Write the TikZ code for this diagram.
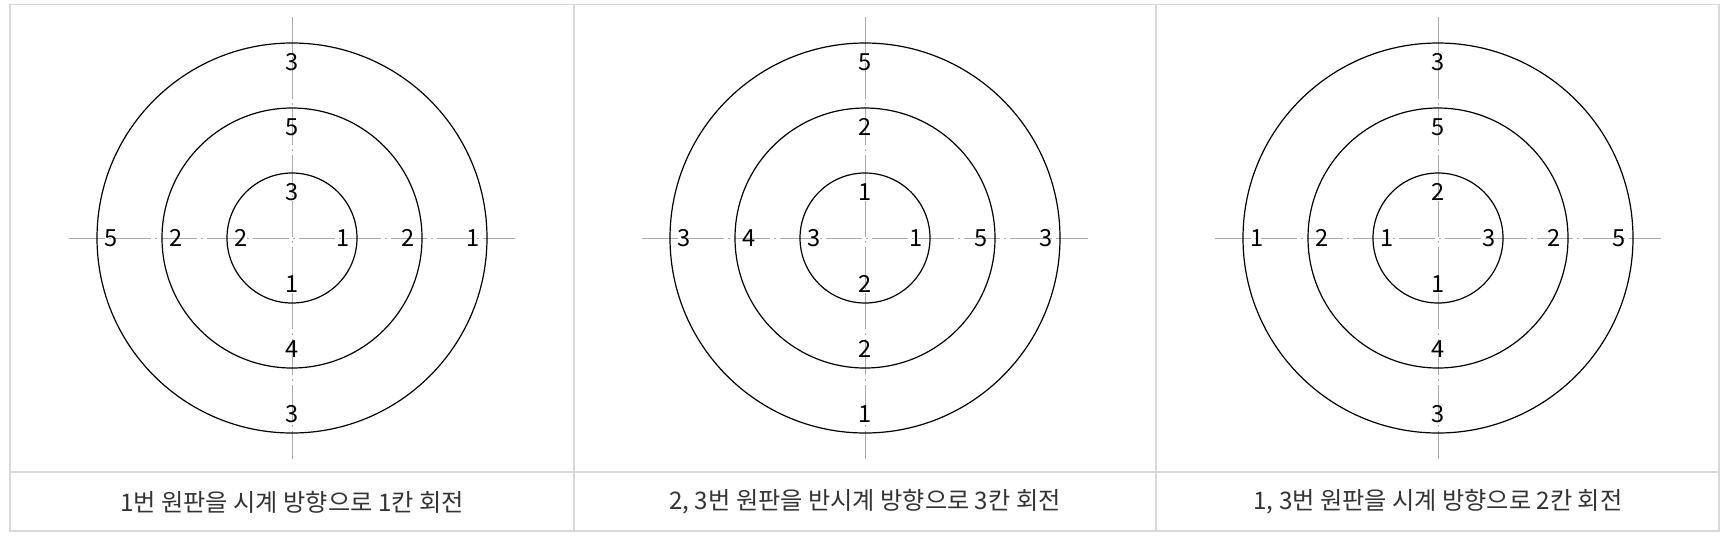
\documentclass[tikz,border=0pt]{standalone}
\usepackage{fontspec}
\setmainfont{Noto Sans CJK KR}
\definecolor{gridgray}{HTML}{D9D9D9}
\definecolor{axisgray}{HTML}{ABABAB}
\definecolor{captext}{HTML}{333333}
\tikzset{
  ring/.style={draw=black, line width=0.6pt},
  axisline/.style={draw=axisgray, line width=0.4pt, dash pattern=on 18pt off 2pt on 1pt off 2pt},
  tableline/.style={draw=gridgray, line width=0.75pt},
  lab/.style={inner sep=0pt, font=\fontsize{11.8pt}{14pt}\selectfont, text=black},
  capnode/.style={inner sep=0pt, font=\fontsize{12.1pt}{14pt}\selectfont, text=captext},
}
\newcommand{\target}[5]{%
  \begin{scope}[shift={(#2,238)}]
    \coordinate (#1c) at (0,0);
    \coordinate (#1ax-l) at (-223,0);
    \coordinate (#1ax-r) at (223,0);
    \coordinate (#1ax-t) at (0,-221);
    \coordinate (#1ax-b) at (0,221);
    \draw[axisline] (#1ax-l) -- (#1ax-r);
    \draw[axisline] (#1ax-t) -- (#1ax-b);
    \draw[ring] (#1c) circle[radius=195];
    \draw[ring] (#1c) circle[radius=130];
    \draw[ring] (#1c) circle[radius=65];
    \foreach \rad/\tt/\bb/\ll/\rr [count=\i] in {195/#3, 130/#4, 65/#5}{
      \node[lab] (#1-\i-t) at (0,{19-\rad}) {\tt};
      \node[lab] (#1-\i-b) at (0,{\rad-19}) {\bb};
      \node[lab] (#1-\i-l) at ({14-\rad},0) {\ll};
      \node[lab] (#1-\i-r) at ({\rad-14},0) {\rr};
    }
  \end{scope}%
}
\begin{document}
\begin{tikzpicture}[x=0.5pt,y=-0.5pt]
\useasboundingbox (0,0) rectangle (1729,538);
% table frame
\coordinate (tl) at (10,4.5);
\coordinate (br) at (1719,531);
\draw[tableline] (tl) rectangle (br);
\coordinate (h1) at (10,472);
\coordinate (h2) at (1719,472);
\draw[tableline] (h1) -- (h2);
\coordinate (v1t) at (574,4.5);
\coordinate (v1b) at (574,531);
\coordinate (v2t) at (1156,4.5);
\coordinate (v2b) at (1156,531);
\draw[tableline] (v1t) -- (v1b);
\draw[tableline] (v2t) -- (v2b);
% targets
\target{A}{292}{3/3/5/1}{5/4/2/2}{3/1/2/1}
\target{B}{865}{5/1/3/3}{2/2/4/5}{1/2/3/1}
\target{C}{1438}{3/3/1/5}{5/4/2/2}{2/1/1/3}
% captions
\node[capnode] (capA) at (292,502) {1번 원판을 시계 방향으로 1칸 회전};
\node[capnode] (capB) at (865,502) {2, 3번 원판을 반시계 방향으로 3칸 회전};
\node[capnode] (capC) at (1438,502) {1, 3번 원판을 시계 방향으로 2칸 회전};
\end{tikzpicture}
\end{document}
